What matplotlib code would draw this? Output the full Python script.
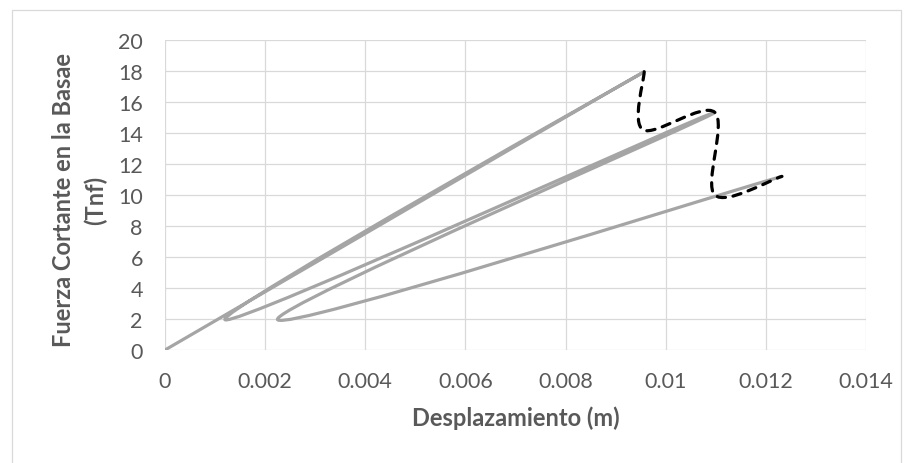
import numpy as np
import matplotlib
matplotlib.use("Agg")
import matplotlib.pyplot as plt
from matplotlib.path import Path
from matplotlib.patches import PathPatch, Rectangle

# ---- data ----
curve_disp = [0.0, 0.00957, 0.00120, 0.01098, 0.00225, 0.01232]
curve_force = [0.0, 17.95, 1.95, 15.33, 1.95, 11.2]

envelope_disp = [0.00957, 0.00955, 0.01098, 0.01098, 0.01232]
envelope_force = [17.95, 14.2, 15.33, 10.0, 11.2]

xticks = [0, 0.002, 0.004, 0.006, 0.008, 0.010, 0.012, 0.014]
xtick_labels = ['0', '0.002', '0.004', '0.006', '0.008', '0.01', '0.012', '0.014']
yticks = [0, 2, 4, 6, 8, 10, 12, 14, 16, 18, 20]
ytick_labels = [str(v) for v in yticks]

plt.rcParams['font.family'] = ['Lato', 'DejaVu Sans']


def smooth_path(xs, ys):
    """Excel-style smoothed line (Catmull-Rom Bezier) through the data points."""
    pts = np.column_stack([xs, ys]).astype(float)
    n = len(pts)
    verts = [pts[0]]
    codes = [Path.MOVETO]
    for i in range(n - 1):
        p0 = pts[i - 1] if i > 0 else pts[i]
        p1 = pts[i]
        p2 = pts[i + 1]
        p3 = pts[i + 2] if i + 2 < n else pts[i + 1]
        c1 = p1 + (p2 - p0) / 6.0
        c2 = p2 - (p3 - p1) / 6.0
        verts += [c1, c2, p2]
        codes += [Path.CURVE4] * 3
    return Path(verts, codes)


W, H = 909, 464
fig = plt.figure(figsize=(W / 100, H / 100), dpi=100)
fig.patch.set_facecolor('white')

# chart-area border
fig.patches.append(Rectangle((12 / W, -0.05), (901 - 12) / W, (H - 11) / H + 0.05,
                             transform=fig.transFigure, fill=False,
                             edgecolor='#D9D9D9', linewidth=0.9))

ax = fig.add_axes([165 / W, (H - 351) / H, (866 - 165) / W, (351 - 41) / H])
ax.set_xlim(0, 0.014)
ax.set_ylim(0, 20)
ax.set_xticks(xticks)
ax.set_xticklabels(xtick_labels)
ax.set_yticks(yticks)
ax.set_yticklabels(ytick_labels)
ax.grid(True, color='#D9D9D9', linewidth=0.9)
ax.set_axisbelow(True)
for s in ax.spines.values():
    s.set_visible(False)
ax.tick_params(length=0, labelsize=15.5, labelcolor='#595959')
ax.tick_params(axis='x', pad=15)
ax.tick_params(axis='y', pad=16)

ax.add_patch(PathPatch(smooth_path(curve_disp, curve_force), fill=False,
                       edgecolor='#A5A5A5', linewidth=2.3, capstyle='round',
                       joinstyle='round', zorder=3))
ax.add_patch(PathPatch(smooth_path(envelope_disp, envelope_force), fill=False,
                       edgecolor='black', linewidth=2.3, linestyle=(0, (2.6, 2.4)),
                       capstyle='round', zorder=4))

ax.set_xlabel('Desplazamiento (m)', fontsize=17, fontweight='bold', color='#595959')
ax.xaxis.set_label_coords(0.5, (351 - 418) / 310)
ax.xaxis.label.set_va('center')
ax.set_ylabel('Fuerza Cortante en la Basae\n(Tnf)', fontsize=17,
              fontweight='bold', color='#595959', linespacing=1.45)
ax.yaxis.set_label_coords((80 - 165) / 701, (351 - 200) / 310)
ax.yaxis.label.set_va('center')

fig.savefig('out.png', dpi=100)
